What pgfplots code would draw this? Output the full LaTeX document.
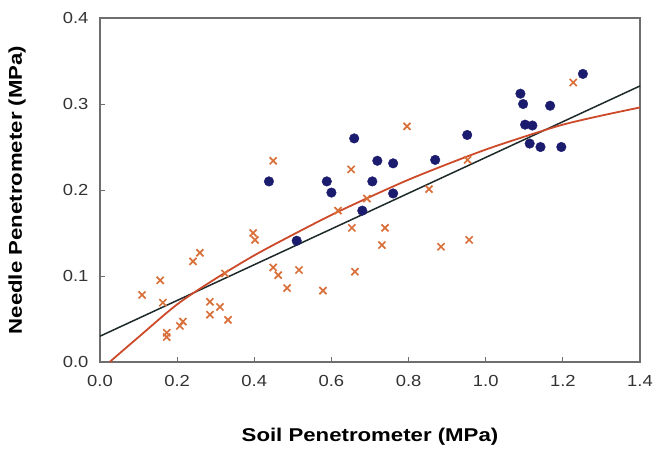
\documentclass[border=0pt]{standalone}
\usepackage{pgfplots}
\pgfplotsset{compat=1.18}
\usepackage{fontspec}
\setmainfont{Liberation Sans}
\definecolor{navy}{HTML}{1C1C6E}
\definecolor{orng}{HTML}{D9703A}
\definecolor{redc}{HTML}{CC4A2A}
\definecolor{framec}{HTML}{6E6E6E}
\definecolor{lin}{HTML}{1E2A2A}
\begin{document}
\begin{tikzpicture}
\begin{axis}[
  scale only axis, width=540pt, height=344pt,
  xmin=0, xmax=1.4, ymin=0, ymax=0.4,
  axis lines=box,
  xtick={0,0.2,...,1.4}, ytick={0,0.1,...,0.4},
  xtick pos=left, ytick pos=left,
  tick align=inside, major tick length=5pt,
  tick style={draw=framec, line width=1pt},
  axis line style={draw=framec, line width=2.2pt},
  xticklabel={\scalebox{1.15}[1]{\pgfmathprintnumber[fixed,fixed zerofill,precision=1,assume math mode=true]{\tick}}},
  yticklabel={\scalebox{1.15}[1]{\pgfmathprintnumber[fixed,fixed zerofill,precision=1,assume math mode=true]{\tick}}},
  ticklabel style={font=\fontsize{16}{18}\selectfont, text=black!80},
  xticklabel style={yshift=-10pt},
  yticklabel style={xshift=-8pt},
  xlabel={\scalebox{1.2}[1]{\textbf{Soil Penetrometer (MPa)}}},
  ylabel={\scalebox{1.2}[1]{\textbf{Needle Penetrometer (MPa)}}},
  label style={font=\fontsize{18.5}{20}\selectfont},
  xlabel style={at={(axis description cs:0.5,-0.2180)}, anchor=center},
  ylabel style={at={(axis description cs:-0.1537,0.5)}, anchor=center},
  clip=false,
]
% black linear trend
\addplot[lin, line width=1.5pt] coordinates {(0,0.030) (1.4,0.321)};
% red curve
\addplot[redc, line width=1.8pt, smooth] coordinates {
(0.025,0.000) (0.1,0.029) (0.2,0.067) (0.3,0.097) (0.4,0.124) (0.5,0.148)
(0.6,0.171) (0.7,0.192) (0.8,0.212) (0.9,0.230) (1.0,0.247) (1.1,0.262)
(1.2,0.276) (1.3,0.2865) (1.4,0.296)};
% orange crosses
\addplot[only marks, mark=x, mark size=5pt, orng, line width=1.7pt] coordinates {
(0.109,0.078) (0.156,0.095) (0.163,0.069) (0.173,0.034) (0.173,0.029)
(0.207,0.042) (0.215,0.047) (0.241,0.117) (0.259,0.127) (0.285,0.070)
(0.311,0.064) (0.285,0.055) (0.332,0.049) (0.324,0.103) (0.397,0.150)
(0.402,0.142) (0.449,0.234) (0.449,0.110) (0.462,0.101) (0.485,0.086)
(0.516,0.107) (0.578,0.083) (0.617,0.176) (0.651,0.224) (0.653,0.156)
(0.661,0.105) (0.692,0.190) (0.731,0.136) (0.739,0.156) (0.796,0.274)
(0.853,0.201) (0.884,0.134) (0.953,0.235) (0.957,0.142) (1.227,0.325)};
% blue dots
\addplot[only marks, mark=*, mark size=4.8pt, navy, mark options={fill=navy, draw=navy}] coordinates {
(0.438,0.210) (0.510,0.141) (0.588,0.210) (0.600,0.197) (0.659,0.260)
(0.680,0.176) (0.706,0.210) (0.719,0.234) (0.760,0.231) (0.760,0.196)
(0.869,0.235) (0.952,0.264) (1.090,0.312) (1.097,0.300) (1.102,0.276)
(1.121,0.275) (1.114,0.254) (1.142,0.250) (1.167,0.298) (1.196,0.250)
(1.252,0.335)};
\end{axis}
\pgfresetboundingbox
\path (-100pt,-86pt) rectangle (556pt,362pt);
\end{tikzpicture}
\end{document}
